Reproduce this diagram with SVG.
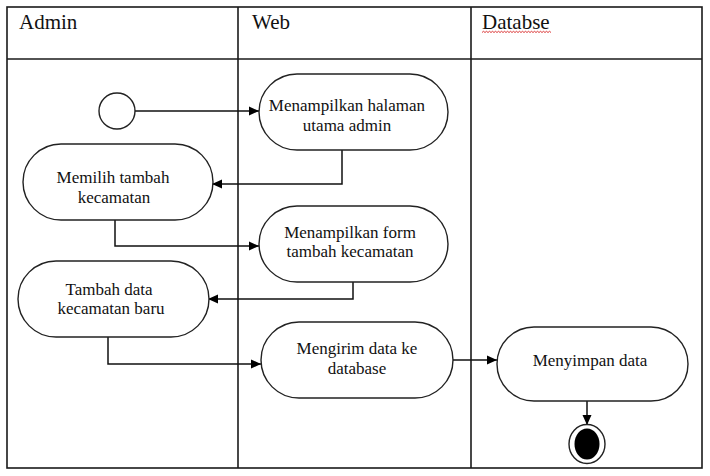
<svg xmlns="http://www.w3.org/2000/svg" width="710" height="476" viewBox="0 0 710 476">
<style>
.frame{fill:none;stroke:#1a1a1a;stroke-width:1.6}
.node{fill:#fff;stroke:#222;stroke-width:1.4}
.conn{fill:none;stroke:#111;stroke-width:1.5}
.hdr{font-family:"Liberation Serif","Times New Roman",serif;font-size:21px;fill:#111}
.lbl{font-family:"Liberation Serif","Times New Roman",serif;font-size:17px;fill:#111;text-anchor:middle}
</style>
<defs>
<marker id="arr" viewBox="0 0 10 10" refX="10" refY="5" markerWidth="10" markerHeight="10" markerUnits="userSpaceOnUse" orient="auto">
<path d="M0,0.5 L10,5 L0,9.5 Z" fill="#000"/>
</marker>
</defs>
<rect width="710" height="476" fill="#fff"/>
<g id="swimlanes">
<rect class="frame" x="7" y="7" width="695" height="461"/>
<line class="frame" x1="7" y1="59" x2="702" y2="59"/>
<line class="frame" x1="238" y1="7" x2="238" y2="468"/>
<line class="frame" x1="471" y1="7" x2="471" y2="468"/>
<text class="hdr" x="19" y="29">Admin</text>
<text class="hdr" x="252" y="29">Web</text>
<text class="hdr" x="482" y="29">Databse</text>
<path d="M482,32.5 l1.5,-1.2 l1.5,1.2 l1.5,-1.2 l1.5,1.2 l1.5,-1.2 l1.5,1.2 l1.5,-1.2 l1.5,1.2 l1.5,-1.2 l1.5,1.2 l1.5,-1.2 l1.5,1.2 l1.5,-1.2 l1.5,1.2 l1.5,-1.2 l1.5,1.2 l1.5,-1.2 l1.5,1.2 l1.5,-1.2 l1.5,1.2 l1.5,-1.2 l1.5,1.2 l1.5,-1.2 l1.5,1.2 l1.5,-1.2 l1.5,1.2 l1.5,-1.2 l1.5,1.2 l1.5,-1.2 l1.5,1.2 l1.5,-1.2 l1.5,1.2 l1.5,-1.2 l1.5,1.2 l1.5,-1.2 l1.5,1.2 l1.5,-1.2 l1.5,1.2 l1.5,-1.2 l1.5,1.2 l1.5,-1.2 l1.5,1.2 l1.5,-1.2 l1.5,1.2 l1.5,-1.2 l1.5,1.2" fill="none" stroke="#d62020" stroke-width="0.9"/>
</g>
<g id="connectors">
<line class="conn" x1="135" y1="111" x2="259" y2="111" marker-end="url(#arr)"/>
<polyline class="conn" points="342,150 342,184 212,184" marker-end="url(#arr)"/>
<polyline class="conn" points="115,220 115,246 259,246" marker-end="url(#arr)"/>
<polyline class="conn" points="353,282 353,299 208,299" marker-end="url(#arr)"/>
<polyline class="conn" points="108,337 108,364 261,364" marker-end="url(#arr)"/>
<line class="conn" x1="453" y1="360" x2="497" y2="360" marker-end="url(#arr)"/>
<line class="conn" x1="587" y1="401" x2="587" y2="425" marker-end="url(#arr)"/>
</g>
<g id="start">
<circle class="node" cx="117" cy="111" r="18"/>
</g>
<g id="n1">
<rect class="node" x="259" y="74" width="189" height="76" rx="38" ry="38"/>
<text class="lbl" x="347" y="111">Menampilkan halaman</text>
<text class="lbl" x="347" y="131">utama admin</text>
</g>
<g id="n2">
<rect class="node" x="23" y="144" width="190" height="76" rx="38" ry="38"/>
<text class="lbl" x="113" y="183">Memilih tambah</text>
<text class="lbl" x="114" y="203">kecamatan</text>
</g>
<g id="n3">
<rect class="node" x="259" y="206" width="189" height="76" rx="38" ry="38"/>
<text class="lbl" x="350" y="238">Menampilkan form</text>
<text class="lbl" x="350" y="257">tambah kecamatan</text>
</g>
<g id="n4">
<rect class="node" x="18" y="261" width="191" height="76" rx="38" ry="38"/>
<text class="lbl" x="109" y="295">Tambah data</text>
<text class="lbl" x="111" y="314">kecamatan baru</text>
</g>
<g id="n5">
<rect class="node" x="261" y="322" width="192" height="76" rx="38" ry="38"/>
<text class="lbl" x="357" y="354">Mengirim data ke</text>
<text class="lbl" x="357" y="374">database</text>
</g>
<g id="n6">
<rect class="node" x="497" y="327" width="191" height="74" rx="37" ry="37"/>
<text class="lbl" x="590" y="366">Menyimpan data</text>
</g>
<g id="end">
<ellipse class="node" cx="587" cy="444" rx="18" ry="19.5"/>
<ellipse cx="587" cy="444" rx="12.5" ry="15.5" fill="#000"/>
</g>
</svg>
